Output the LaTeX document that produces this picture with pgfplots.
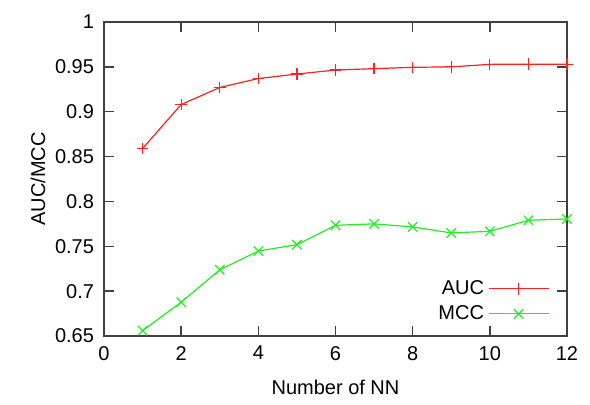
\documentclass[border=0pt]{standalone}
\usepackage{fontspec}
\setmainfont{Liberation Sans}
\usepackage{pgfplots}
\pgfplotsset{compat=1.18}
\definecolor{gpred}{HTML}{FF2020}
\definecolor{gpgreen}{HTML}{20F020}
\definecolor{gpaxis}{HTML}{404040}

\begin{document}
\begin{tikzpicture}
\fontsize{10}{11.5}\selectfont
\path[use as bounding box] (-52pt,-34pt) rectangle (243pt,168pt);
\begin{axis}[
  scale only axis, width=231.5pt, height=157pt,
  xmin=0, xmax=12, ymin=0.65, ymax=1,
  xtick={0,2,...,12}, ytick={0.65,0.7,0.75,0.8,0.85,0.9,0.95,1},
  tick align=inside, major tick length=5pt,
  axis line style={gpaxis, line width=0.7pt},
  tick style={gpaxis, line width=0.7pt},
  /pgf/number format/assume math mode=true,
  /pgf/number format/fixed,
  xticklabel style={yshift=-1.5pt},
  yticklabel style={xshift=-1.5pt},
  xlabel={Number of NN}, ylabel={AUC/MCC},
  xlabel style={yshift=-3pt}, ylabel style={yshift=-2pt},
  clip=false,
  legend cell align=right, legend plot pos=right,
  legend style={at={(axis cs:11.55,0.6886)}, anchor=east, draw=none, fill=none,
    inner sep=0pt, row sep=0pt, font=\fontsize{10}{11.5}\selectfont},
  legend image code/.code={\draw[mark repeat=2,mark phase=2,#1] plot coordinates {(0pt,0pt)(15pt,0pt)(30pt,0pt)};},
]
\addplot[gpred, line width=0.6pt, mark=+, mark size=2.9pt] coordinates {
(1,0.859) (2,0.908) (3,0.927) (4,0.937) (5,0.942) (6,0.9465)
(7,0.948) (8,0.9495) (9,0.950) (10,0.9528) (11,0.953) (12,0.953)};
\addlegendentry{AUC}
\addplot[gpgreen, line width=0.6pt, mark=x, mark size=3.3pt] coordinates {
(1,0.656) (2,0.6877) (3,0.7238) (4,0.7447) (5,0.7518) (6,0.7734)
(7,0.775) (8,0.7716) (9,0.7649) (10,0.7667) (11,0.779) (12,0.7805)};
\addlegendentry{MCC}
\end{axis}
\end{tikzpicture}
\end{document}
